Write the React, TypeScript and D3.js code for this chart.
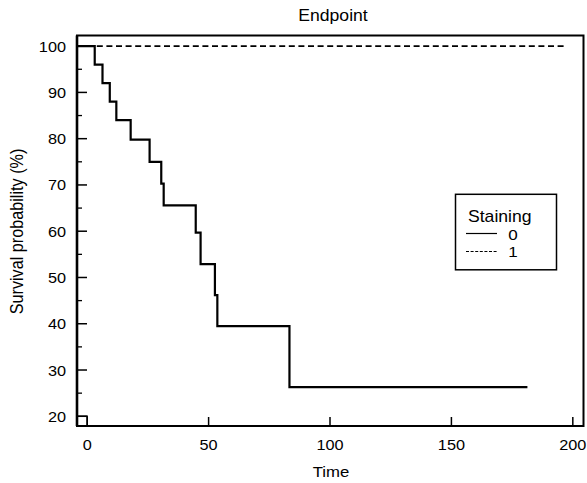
import React from 'react';
import * as d3 from 'd3';

// ---- data ----
const group0Times = [0, 3.1, 6.3, 9.3, 12.0, 17.9, 25.7, 30.5, 31.5, 44.7, 46.7, 52.6, 53.6, 83.3, 181.3];
const group0Surv = [100, 96, 92, 88, 84, 79.8, 75, 70.3, 65.6, 59.7, 52.9, 46.2, 39.5, 26.3, 26.3];
const group1Times = [0, 197.6];
const group1Surv = [100, 100];
const xTicks = [0, 50, 100, 150, 200];
const yTicks = [20, 30, 40, 50, 60, 70, 80, 90, 100];
const yMinorTicks = [25, 35, 45, 55, 65, 75, 85, 95];
const legendTitle = 'Staining';
const legendLabels = ['0', '1'];

const W = 587;
const H = 483;
const FONT = "'Liberation Sans', Arial, Helvetica, sans-serif";

export default function App() {
  const x = d3.scaleLinear().domain([-4.2, 204.4]).range([77, 583.5]);
  const y = d3.scaleLinear().domain([17.9, 102.3]).range([426, 35.5]);
  const [x0, x1] = x.range();
  const [yb, yt] = y.range();

  const line = d3
    .line<[number, number]>()
    .x((d) => x(d[0]))
    .y((d) => y(d[1]))
    .curve(d3.curveStepAfter);

  const pts0: [number, number][] = group0Times.map((t, i) => [i === 0 ? x.domain()[0] : t, group0Surv[i]]);
  const pts1: [number, number][] = group1Times.map((t, i) => [t, group1Surv[i]]);

  // small corner step at the bottom-left seen in the reference
  const corner: [number, number][] = [
    [x.domain()[0], 20],
    [0, 20],
    [0, y.domain()[0]],
  ];

  return (
    <svg
      width={W}
      height={H}
      style={{ position: 'absolute', left: 0, top: 0, background: '#fff' }}
      fontFamily={FONT}
    >
      <rect x={0} y={0} width={W} height={H} fill="#fff" />
      {/* title */}
      <text transform={`translate(333,20.5) scale(1.1,1)`} textAnchor="middle" fontSize={16} fill="#000">
        Endpoint
      </text>

      {/* curves */}
      <path d={line(pts1) || ''} fill="none" stroke="#000" strokeWidth={1.6} strokeDasharray="6,3.6" />
      <path d={line(pts0) || ''} fill="none" stroke="#000" strokeWidth={2.2} />
      <path d={line(corner) || ''} fill="none" stroke="#000" strokeWidth={1.5} />

      {/* frame */}
      <rect x={x0} y={yt} width={x1 - x0} height={yb - yt} fill="none" stroke="#000" strokeWidth={2} />
      <line x1={x0} x2={x0} y1={yt} y2={yb} stroke="#000" strokeWidth={2.6} />

      {/* y ticks */}
      {yTicks.map((v) => (
        <g key={'y' + v}>
          <line x1={x0} x2={x0 + 10} y1={y(v)} y2={y(v)} stroke="#000" strokeWidth={1.5} />
          <text
            transform={`translate(66,${y(v) + 5.5}) scale(1.05,1)`}
            textAnchor="end"
            fontSize={15.5}
            fill="#000"
          >
            {v}
          </text>
        </g>
      ))}
      {yMinorTicks.map((v) => (
        <line key={'ym' + v} x1={x0} x2={x0 + 5} y1={y(v)} y2={y(v)} stroke="#000" strokeWidth={1.3} />
      ))}

      {/* x ticks */}
      {xTicks.map((v) => (
        <g key={'x' + v}>
          <line x1={x(v)} x2={x(v)} y1={yb} y2={yb - 9} stroke="#000" strokeWidth={1.5} />
          <text
            transform={`translate(${x(v)},450) scale(1.05,1)`}
            textAnchor="middle"
            fontSize={15.5}
            fill="#000"
          >
            {v}
          </text>
        </g>
      ))}

      {/* axis labels */}
      <text transform={`translate(331,477) scale(1.08,1)`} textAnchor="middle" fontSize={15.5} fill="#000">
        Time
      </text>
      <text
        transform={`translate(23,231.5) scale(1.08,1) rotate(-90)`}
        textAnchor="middle"
        fontSize={16.2}
        fill="#000"
      >
        Survival probability (%)
      </text>

      {/* legend */}
      <rect x={455.5} y={194.3} width={101} height={75.5} fill="#fff" stroke="#000" strokeWidth={1.5} />
      <text transform={`translate(468,222) scale(1.1,1)`} fontSize={16} fill="#000">
        {legendTitle}
      </text>
      <line x1={466} x2={497} y1={233.5} y2={233.5} stroke="#000" strokeWidth={1.2} />
      <line x1={466} x2={497} y1={251.5} y2={251.5} stroke="#000" strokeWidth={1.2} strokeDasharray="3,1.6" />
      <text transform={`translate(513,239.5) scale(1.1,1)`} textAnchor="middle" fontSize={15.5} fill="#000">
        {legendLabels[0]}
      </text>
      <text transform={`translate(513,257) scale(1.1,1)`} textAnchor="middle" fontSize={15.5} fill="#000">
        {legendLabels[1]}
      </text>
    </svg>
  );
}
